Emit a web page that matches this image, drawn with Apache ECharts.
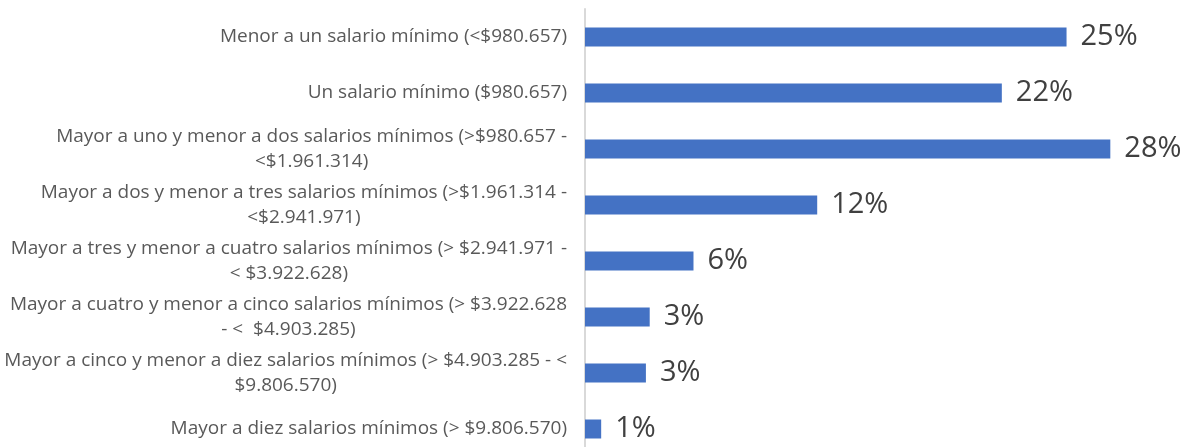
<!DOCTYPE html>
<html>
<head>
<meta charset="utf-8">
<script src="https://cdn.jsdelivr.net/npm/echarts@6/dist/echarts.min.js"></script>
<style>
    html, body { margin: 0; padding: 0; background: #fff; overflow: hidden; }
    #barChart { width: 1186px; height: 470px; }
</style>
</head>
<body>
<div id="barChart"></div>
<script>
    const categories = [
        'Menor a un salario mínimo (<$980.657)',
        'Un salario mínimo ($980.657)',
        'Mayor a uno y menor a dos salarios mínimos (>$980.657 -\n<$1.961.314)',
        'Mayor a dos y menor a tres salarios mínimos (>$1.961.314 -\n<$2.941.971)',
        'Mayor a tres y menor a cuatro salarios mínimos (> $2.941.971 -\n< $3.922.628)',
        'Mayor a cuatro y menor a cinco salarios mínimos (> $3.922.628\n- <  $4.903.285)',
        'Mayor a cinco y menor a diez salarios mínimos (> $4.903.285 - <\n$9.806.570)',
        'Mayor a diez salarios mínimos (> $9.806.570)'
    ];
    // porcentajes (estimados a partir del largo de las barras)
    const values = [25.3, 21.9, 27.6, 12.2, 5.7, 3.4, 3.2, 0.85];

    const myChart = echarts.init(document.getElementById('barChart'));
    const option = {
        animation: false,
        grid: {
            left: 585,
            right: 30,
            top: 9,
            height: 448
        },
        xAxis: {
            type: 'value',
            min: 0,
            max: 30,
            show: false
        },
        yAxis: {
            type: 'category',
            inverse: true,
            data: categories,
            axisLine: {
                show: true,
                lineStyle: { color: '#d9d9d9', width: 2 }
            },
            axisTick: { show: false },
            axisLabel: {
                margin: 18,
                align: 'right',
                // las líneas de cada etiqueta van centradas entre sí
                formatter: v => v.split('\n').map(s => '{c|' + s + '}').join('\n'),
                rich: {
                    c: {
                        align: 'center',
                        color: '#595959',
                        fontFamily: 'Open Sans',
                        fontSize: 19,
                        lineHeight: 25
                    }
                }
            }
        },
        series: [{
            type: 'bar',
            data: values,
            barWidth: 19,
            itemStyle: { color: '#4472C4' },
            label: {
                show: true,
                position: 'right',
                distance: 14,
                color: '#404040',
                fontFamily: 'Open Sans',
                fontSize: 29,
                formatter: p => Math.round(p.value) + '%'
            }
        }]
    };
    myChart.setOption(option);
</script>
</body>
</html>
